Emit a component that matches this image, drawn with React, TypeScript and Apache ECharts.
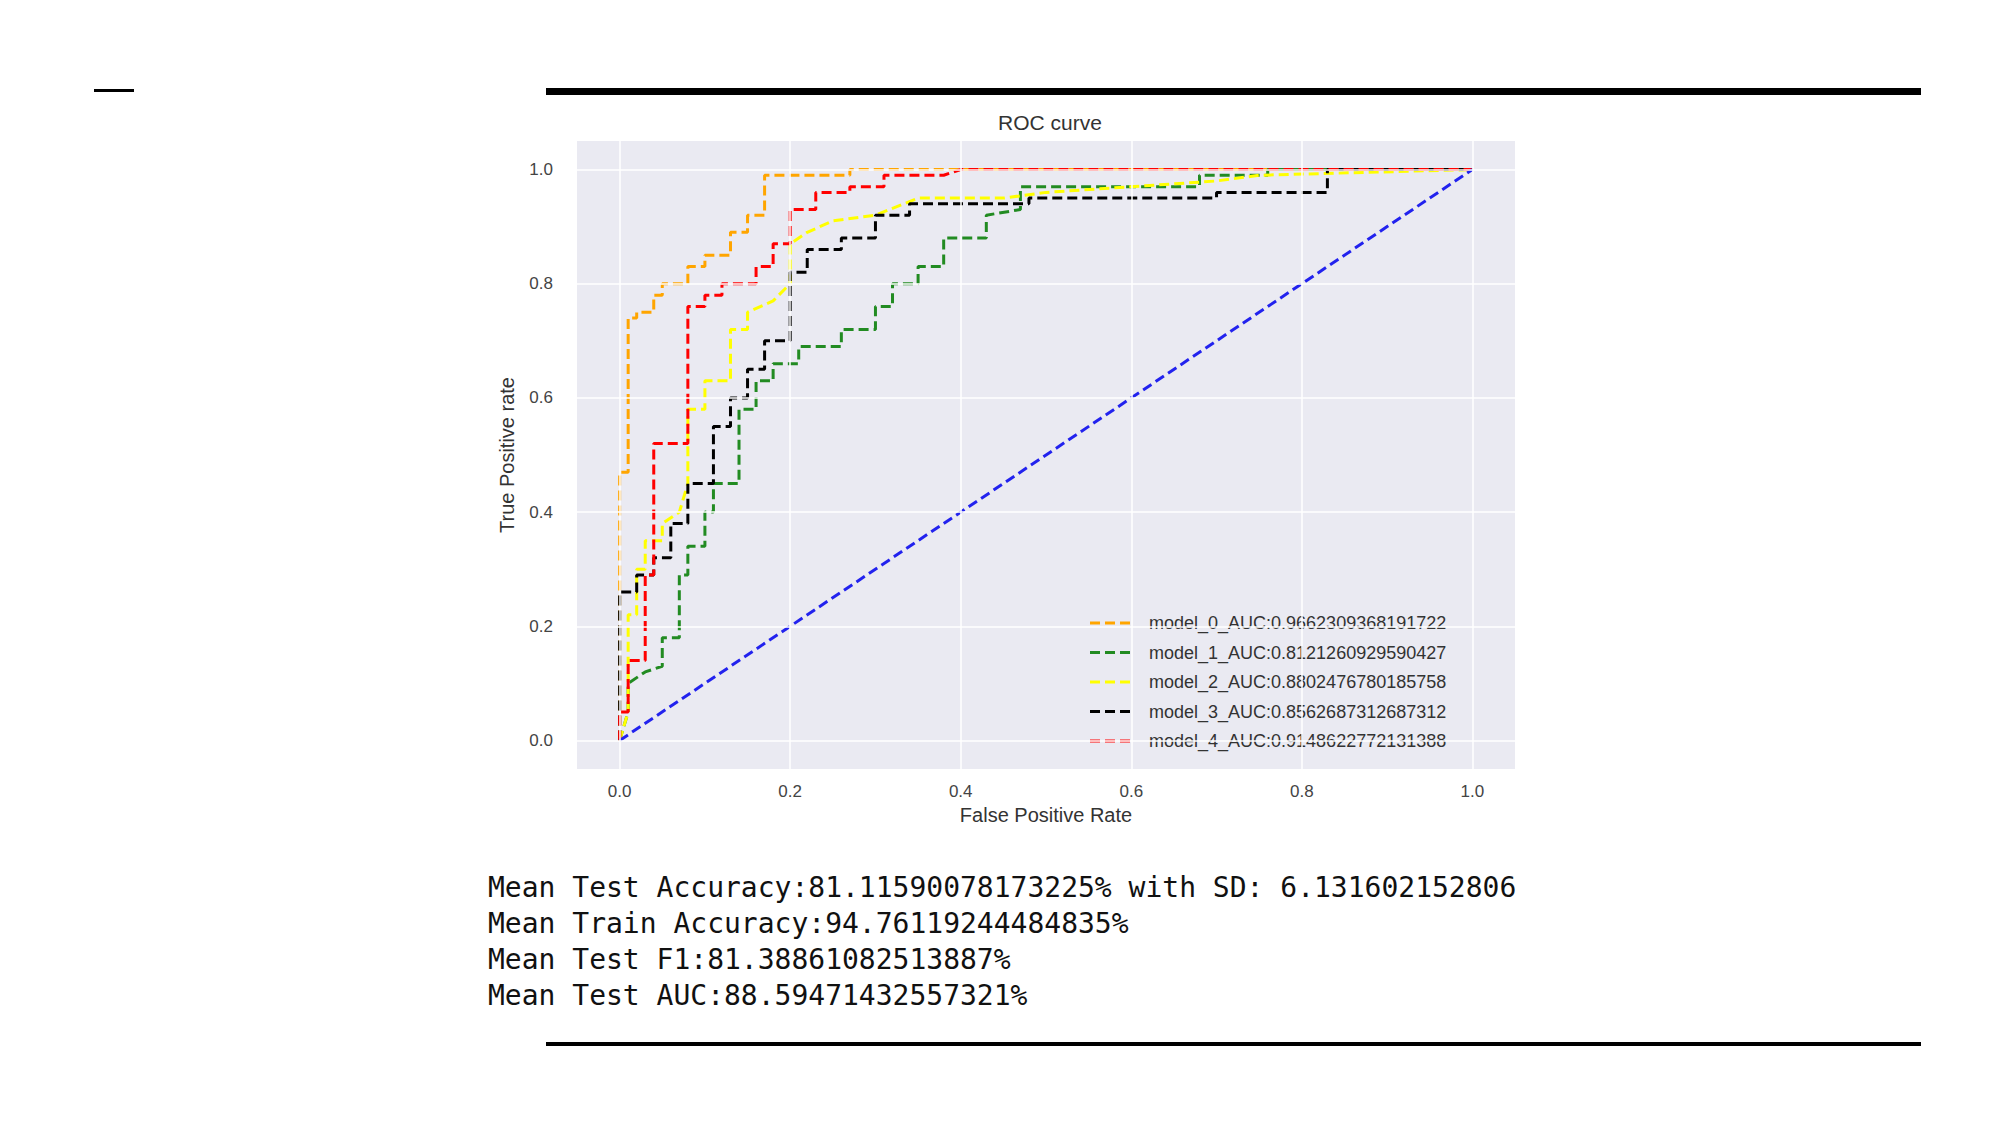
import { useEffect, useRef } from "react";
import * as echarts from "echarts";

const modelNames = [
  "model_0_AUC:0.9662309368191722",
  "model_1_AUC:0.8121260929590427",
  "model_2_AUC:0.8802476780185758",
  "model_3_AUC:0.8562687312687312",
  "model_4_AUC:0.9148622772131388",
];
const modelColors = ["#ffa500", "#228b22", "#ffff00", "#000000", "#ff0000"];

const model0 = [[0,0],[0,0.47],[0.01,0.47],[0.01,0.74],[0.02,0.74],[0.02,0.75],[0.04,0.75],[0.04,0.78],[0.05,0.78],[0.05,0.8],[0.08,0.8],[0.08,0.83],[0.1,0.83],[0.1,0.85],[0.13,0.85],[0.13,0.89],[0.15,0.89],[0.15,0.92],[0.17,0.92],[0.17,0.99],[0.27,0.99],[0.27,1],[1,1]];
const model1 = [[0,0],[0.01,0.05],[0.01,0.1],[0.03,0.12],[0.05,0.13],[0.05,0.18],[0.07,0.18],[0.07,0.29],[0.08,0.29],[0.08,0.34],[0.1,0.34],[0.1,0.4],[0.11,0.4],[0.11,0.45],[0.14,0.45],[0.14,0.58],[0.16,0.58],[0.16,0.63],[0.18,0.63],[0.18,0.66],[0.21,0.66],[0.21,0.69],[0.26,0.69],[0.26,0.72],[0.3,0.72],[0.3,0.76],[0.32,0.76],[0.32,0.8],[0.35,0.8],[0.35,0.83],[0.38,0.83],[0.38,0.88],[0.43,0.88],[0.43,0.92],[0.47,0.93],[0.47,0.97],[0.68,0.97],[0.68,0.99],[0.76,0.99],[0.76,1],[1,1]];
const model2 = [[0,0],[0.01,0.05],[0.01,0.22],[0.02,0.22],[0.02,0.3],[0.03,0.3],[0.03,0.35],[0.05,0.35],[0.05,0.38],[0.07,0.4],[0.08,0.45],[0.08,0.58],[0.1,0.58],[0.1,0.63],[0.13,0.63],[0.13,0.72],[0.15,0.72],[0.15,0.75],[0.18,0.77],[0.2,0.8],[0.2,0.87],[0.22,0.89],[0.25,0.91],[0.3,0.92],[0.35,0.95],[0.45,0.95],[0.5,0.96],[0.7,0.98],[0.75,0.99],[1,1]];
const model3 = [[0,0],[0,0.26],[0.02,0.26],[0.02,0.29],[0.04,0.29],[0.04,0.32],[0.06,0.32],[0.06,0.38],[0.08,0.38],[0.08,0.45],[0.11,0.45],[0.11,0.55],[0.13,0.55],[0.13,0.6],[0.15,0.6],[0.15,0.65],[0.17,0.65],[0.17,0.7],[0.2,0.7],[0.2,0.82],[0.22,0.82],[0.22,0.86],[0.26,0.86],[0.26,0.88],[0.3,0.88],[0.3,0.92],[0.34,0.92],[0.34,0.94],[0.48,0.94],[0.48,0.95],[0.7,0.95],[0.7,0.96],[0.83,0.96],[0.83,0.98],[0.83,1],[1,1]];
const model4 = [[0,0],[0,0.05],[0.01,0.05],[0.01,0.14],[0.03,0.14],[0.03,0.29],[0.04,0.29],[0.04,0.52],[0.08,0.52],[0.08,0.76],[0.1,0.76],[0.1,0.78],[0.12,0.78],[0.12,0.8],[0.16,0.8],[0.16,0.83],[0.18,0.83],[0.18,0.87],[0.2,0.87],[0.2,0.93],[0.23,0.93],[0.23,0.96],[0.27,0.96],[0.27,0.97],[0.31,0.97],[0.31,0.99],[0.38,0.99],[0.4,1],[1,1]];
const modelData = [model0, model1, model2, model3, model4];
const diagonal = [[0,0],[1,1]];
const tickValues = [0, 0.2, 0.4, 0.6, 0.8, 1.0];

const statLines = [
  "Mean Test Accuracy:81.11590078173225% with SD: 6.131602152806",
  "Mean Train Accuracy:94.76119244484835%",
  "Mean Test F1:81.38861082513887%",
  "Mean Test AUC:88.59471432557321%",
];

export default function App() {
  const ref = useRef<HTMLDivElement | null>(null);

  useEffect(() => {
    if (!ref.current) return;
    const chart = echarts.init(ref.current, null, { renderer: "svg" });
    const font = "Liberation Sans";
    const gridLines = {
      silent: true,
      symbol: "none",
      label: { show: false },
      lineStyle: { color: "#ffffff", width: 1.5, type: "solid" },
      data: [
        ...tickValues.map((v) => ({ xAxis: v })),
        ...tickValues.map((v) => ({ yAxis: v })),
      ],
    };
    const axisCommon = {
      type: "value",
      min: -0.05,
      max: 1.05,
      splitLine: { show: false },
      axisLine: { show: false },
      axisTick: { show: false },
      nameLocation: "middle",
      nameTextStyle: { fontFamily: font, fontSize: 20, color: "#333" },
      axisLabel: {
        customValues: tickValues,
        formatter: (v: number) => v.toFixed(1),
        fontFamily: font,
        fontSize: 17,
        color: "#444",
      },
    };
    chart.setOption({
      animation: false,
      title: {
        text: "ROC curve",
        left: 1045,
        top: 107,
        textAlign: "center",
        textStyle: { fontFamily: font, fontSize: 21, fontWeight: "normal", color: "#333" },
      },
      grid: { left: 577, top: 141, width: 938, height: 628, backgroundColor: "#eaeaf2", show: true, borderWidth: 0 },
      xAxis: { ...axisCommon, name: "False Positive Rate", nameGap: 36, axisLabel: { ...axisCommon.axisLabel, margin: 14 } },
      yAxis: { ...axisCommon, name: "True Positive rate", nameGap: 60, axisLabel: { ...axisCommon.axisLabel, margin: 24 } },
      series: [
        { type: "line", data: [], markLine: gridLines, silent: true },
        ...modelData.map((d, i) => ({
          type: "line",
          name: modelNames[i],
          data: d,
          showSymbol: false,
          lineStyle: { color: modelColors[i], width: 3, type: [10, 5] },
        })),
        {
          type: "line",
          data: diagonal,
          showSymbol: false,
          lineStyle: { color: "#2222ee", width: 3, type: [10, 5] },
        },
      ],
      graphic: modelNames.flatMap((n, i) => [
        {
          type: "line",
          shape: { x1: 1090, y1: 623 + i * 29.5, x2: 1131, y2: 623 + i * 29.5 },
          style: { stroke: modelColors[i], lineWidth: 3, lineDash: [10, 5] },
        },
        {
          type: "text",
          x: 1149,
          y: 623 + i * 29.5,
          style: { text: n, fontFamily: font, fontSize: 18, fill: "#333", verticalAlign: "middle" },
        },
      ]),
    });
    return () => chart.dispose();
  }, []);

  return (
    <div style={{ position: "fixed", left: 0, top: 0, width: 2000, height: 1125, background: "#fff" }}>
      <div style={{ position: "absolute", left: 94, top: 89, width: 40, height: 3, background: "#000" }} />
      <div style={{ position: "absolute", left: 546, top: 88, width: 1375, height: 7, background: "#000" }} />
      <div style={{ position: "absolute", left: 546, top: 1042, width: 1375, height: 4, background: "#000" }} />
      <div ref={ref} style={{ position: "absolute", left: 0, top: 0, width: 2000, height: 1125 }} />
      <div
        style={{
          position: "absolute",
          left: 488,
          top: 870,
          width: 1052,
          overflow: "hidden",
          whiteSpace: "pre",
          fontFamily: "DejaVu Sans Mono",
          fontSize: 28,
          lineHeight: "36px",
          color: "#111",
        }}
      >
        {statLines.map((l, i) => (
          <div key={i}>{l}</div>
        ))}
      </div>
    </div>
  );
}
